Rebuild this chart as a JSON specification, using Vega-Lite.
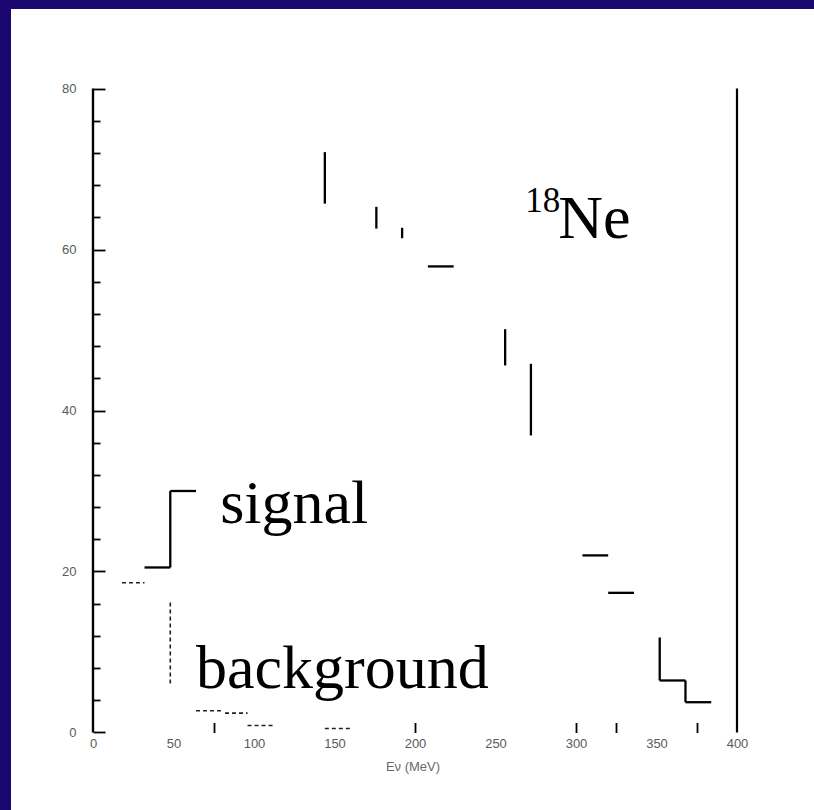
{
  "$schema": "https://vega.github.io/schema/vega-lite/v6.json",
  "width": 803,
  "height": 801,
  "autosize": {"type": "none"},
  "padding": {"left": 11, "top": 9, "right": 0, "bottom": 0},
  "background": "#1a0870",
  "config": {
    "view": {"fill": "white", "stroke": null},
    "axis": {"grid": false, "labelOverlap": false, "labelFlush": false}
  },
  "datasets": {
    "signal": [
      {"x": 32, "x2": 48, "y": 20.5, "y2": 20.5},
      {"x": 48, "x2": 48, "y": 20.5, "y2": 30},
      {"x": 48, "x2": 64, "y": 30, "y2": 30},
      {"x": 144, "x2": 144, "y": 65.7, "y2": 72.1},
      {"x": 176, "x2": 176, "y": 62.6, "y2": 65.3},
      {"x": 192, "x2": 192, "y": 61.4, "y2": 62.7},
      {"x": 208, "x2": 224, "y": 57.9, "y2": 57.9},
      {"x": 256, "x2": 256, "y": 45.6, "y2": 50.1},
      {"x": 272, "x2": 272, "y": 36.9, "y2": 45.8},
      {"x": 304, "x2": 320, "y": 22.0, "y2": 22.0},
      {"x": 320, "x2": 336, "y": 17.35, "y2": 17.35},
      {"x": 352, "x2": 352, "y": 6.46, "y2": 11.8},
      {"x": 352, "x2": 368, "y": 6.46, "y2": 6.46},
      {"x": 368, "x2": 368, "y": 3.76, "y2": 6.46},
      {"x": 368, "x2": 384, "y": 3.76, "y2": 3.76}
    ],
    "background": [
      {"x": 18, "x2": 32, "y": 18.6, "y2": 18.6},
      {"x": 48, "x2": 48, "y": 6.1, "y2": 16.4},
      {"x": 64, "x2": 80, "y": 2.7, "y2": 2.7},
      {"x": 82, "x2": 96, "y": 2.4, "y2": 2.4},
      {"x": 96, "x2": 112, "y": 0.87, "y2": 0.87},
      {"x": 144, "x2": 160, "y": 0.5, "y2": 0.5}
    ],
    "notes": [
      {"text": "signal", "x": 79, "y": 26.05, "kind": "big"},
      {"text": "background", "x": 64, "y": 5.5, "kind": "big"},
      {"text": "Ne", "x": 289, "y": 61.4, "kind": "big"},
      {"text": "18", "x": 268.5, "y": 64.6, "kind": "sup"}
    ]
  },
  "layer": [
    {
      "data": {"name": "signal"},
      "mark": {"type": "rule", "color": "black", "strokeWidth": 2.3},
      "encoding": {
        "x": {
          "field": "x",
          "type": "quantitative",
          "scale": {"domain": [-50.93, 447.83], "nice": false, "zero": false},
          "axis": {
            "orient": "bottom",
            "offset": -77.5,
            "domain": false,
            "values": [0, 50, 75, 100, 150, 200, 250, 300, 325, 350, 375, 400],
            "tickSize": -10,
            "tickWidth": 1.8,
            "tickColor": "black",
            "tickOpacity": {
              "condition": {"test": "indexof([75, 200, 300, 325, 375], datum.value) >= 0", "value": 1},
              "value": 0
            },
            "labelExpr": "datum.value % 50 === 0 ? datum.label : ''",
            "labelPadding": 15,
            "labelFont": "Liberation Sans",
            "labelFontSize": 13,
            "labelColor": "#5a5a5a",
            "title": "Eν (MeV)",
            "titleFont": "Liberation Sans",
            "titleFontSize": 13,
            "titleFontWeight": "normal",
            "titleColor": "#6a6a6a",
            "titlePadding": 10
          }
        },
        "x2": {"field": "x2"},
        "y": {
          "field": "y",
          "type": "quantitative",
          "scale": {"domain": [-9.63, 89.88], "nice": false, "zero": false},
          "axis": {
            "orient": "left",
            "offset": -82,
            "domain": false,
            "values": [0, 2, 4, 6, 8, 10, 12, 14, 16, 18, 20, 22, 24, 26, 28, 30, 32, 34, 36, 38, 40, 42, 44, 46, 48, 50, 52, 54, 56, 58, 60, 62, 64, 66, 68, 70, 72, 74, 76, 78, 80],
            "tickSize": {"condition": {"test": "datum.value % 10 === 0", "value": -12}, "value": -7},
            "tickWidth": 1.8,
            "tickColor": "black",
            "labelExpr": "datum.value % 10 === 0 ? datum.label : ''",
            "labelPadding": 29,
            "labelFont": "Liberation Sans",
            "labelFontSize": 13,
            "labelColor": "#5a5a5a",
            "title": null
          }
        },
        "y2": {"field": "y2"}
      }
    },
    {
      "data": {"name": "background"},
      "mark": {"type": "rule", "color": "#222222", "strokeWidth": 1.6, "strokeDash": [4, 3]},
      "encoding": {
        "x": {"field": "x", "type": "quantitative"},
        "x2": {"field": "x2"},
        "y": {"field": "y", "type": "quantitative"},
        "y2": {"field": "y2"}
      }
    },
    {
      "data": {"values": [{}]},
      "mark": {"type": "rule", "color": "black", "strokeWidth": 2.4},
      "encoding": {
        "x": {"datum": 0, "type": "quantitative"},
        "y": {"datum": 0, "type": "quantitative"},
        "y2": {"datum": 80}
      }
    },
    {
      "data": {"values": [{}]},
      "mark": {"type": "rule", "color": "black", "strokeWidth": 2.2},
      "encoding": {
        "x": {"datum": 400, "type": "quantitative"},
        "y": {"datum": 0, "type": "quantitative"},
        "y2": {"datum": 80}
      }
    },
    {
      "data": {"name": "notes"},
      "transform": [{"filter": "datum.kind === 'big'"}],
      "mark": {"type": "text", "font": "Liberation Serif", "fontSize": 62, "align": "left", "baseline": "alphabetic", "color": "black"},
      "encoding": {
        "x": {"field": "x", "type": "quantitative"},
        "y": {"field": "y", "type": "quantitative"},
        "text": {"field": "text"}
      }
    },
    {
      "data": {"name": "notes"},
      "transform": [{"filter": "datum.kind === 'sup'"}],
      "mark": {"type": "text", "font": "Liberation Serif", "fontSize": 35, "align": "left", "baseline": "alphabetic", "color": "black"},
      "encoding": {
        "x": {"field": "x", "type": "quantitative"},
        "y": {"field": "y", "type": "quantitative"},
        "text": {"field": "text"}
      }
    }
  ]
}
